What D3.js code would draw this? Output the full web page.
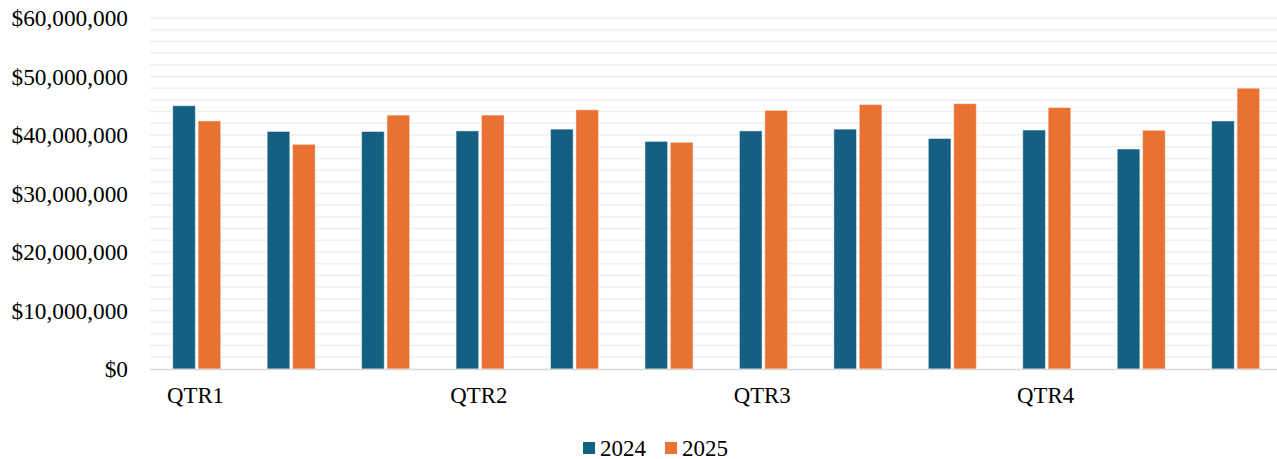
<!DOCTYPE html>
<html><head><meta charset="utf-8">
<script src="https://cdn.jsdelivr.net/npm/d3@7"></script>
<style>body{margin:0;background:#fff}svg{display:block}</style>
</head><body><svg id="c" width="1277" height="459"></svg>
<script>
const months = ["Jan","Feb","Mar","Apr","May","Jun","Jul","Aug","Sep","Oct","Nov","Dec"];
const quarterLabels = ["QTR1","","","QTR2","","","QTR3","","","QTR4","",""];
const series = ["2024","2025"];
const values2024 = [45.0,40.6,40.6,40.7,41.0,38.9,40.7,41.0,39.4,40.85,37.6,42.4].map(v=>v*1e6);
const values2025 = [42.4,38.4,43.4,43.4,44.3,38.75,44.2,45.2,45.35,44.7,40.8,48.0].map(v=>v*1e6);
const yTicks = [0,10e6,20e6,30e6,40e6,50e6,60e6];
const minorStep = 2e6;
const colors = ["#156082","#E97132"];

const svg = d3.select("#c");
const font = "'Liberation Serif','Times New Roman',serif";
const x0 = d3.scaleBand().domain(months).range([149.5, 149.5+12*94.45]).paddingInner(0).paddingOuter(0);
const y = d3.scaleLinear().domain([0,60e6]).range([369,18]);
const x1 = d3.scaleBand().domain(series).range([x0.bandwidth()/2-24, x0.bandwidth()/2+24]).paddingInner(0.11);

// gridlines
const minor = d3.range(minorStep, 60e6+1, minorStep);
svg.append("g").selectAll("line").data(minor).join("line")
  .attr("x1",150).attr("x2",1277)
  .attr("y1",d=>y(d)).attr("y2",d=>y(d))
  .attr("stroke","#efefef").attr("stroke-width",1.5);

// y axis labels
const yAxis = d3.axisLeft(y).tickValues(yTicks).tickSize(0).tickPadding(0)
  .tickFormat(d=>"$"+d3.format(",")(d));
const ya = svg.append("g").attr("transform","translate(128,0)").call(yAxis);
ya.select(".domain").remove();
ya.attr("font-family",font).attr("font-size",23.3);
ya.selectAll("text").attr("fill","#000").attr("dy","0.33em");

// bars
const data = months.map((m,i)=>({m, vals:[values2024[i],values2025[i]]}));
const g = svg.append("g").selectAll("g").data(data).join("g")
  .attr("transform",d=>`translate(${x0(d.m)},0)`);
g.selectAll("rect").data(d=>d.vals.map((v,j)=>({s:series[j],v,j}))).join("rect")
  .attr("x",d=>x1(d.s)).attr("width",x1.bandwidth())
  .attr("y",d=>y(d.v)).attr("height",d=>369-y(d.v))
  .attr("fill",d=>colors[d.j]).attr("stroke","#fff").attr("stroke-opacity",0.45).attr("stroke-width",1);

// baseline
svg.append("line").attr("x1",150).attr("x2",1277).attr("y1",369.5).attr("y2",369.5)
  .attr("stroke","#d9d9d9").attr("stroke-width",1.5);

// x axis (quarter labels)
const xAxis = d3.axisBottom(x0).tickSize(0).tickFormat((d,i)=>quarterLabels[i]);
const xa = svg.append("g").attr("transform","translate(0,369)").call(xAxis);
xa.select(".domain").remove();
xa.attr("font-family",font).attr("font-size",22.8);
xa.selectAll(".tick").attr("transform",d=>`translate(${x0(d)+17.5},0)`);
xa.selectAll("text").attr("fill","#000")
  .attr("text-anchor","start").attr("y",34).attr("dy",0);

// legend
const leg = svg.append("g");
const lx = [583,665];
series.forEach((s,i)=>{
  leg.append("rect").attr("x",lx[i]).attr("y",442).attr("width",12).attr("height",12).attr("fill",colors[i]);
  leg.append("text").attr("x",lx[i]+17).attr("y",455.5).attr("font-family",font).attr("font-size",23).attr("fill","#000").text(s);
});
</script></body></html>
